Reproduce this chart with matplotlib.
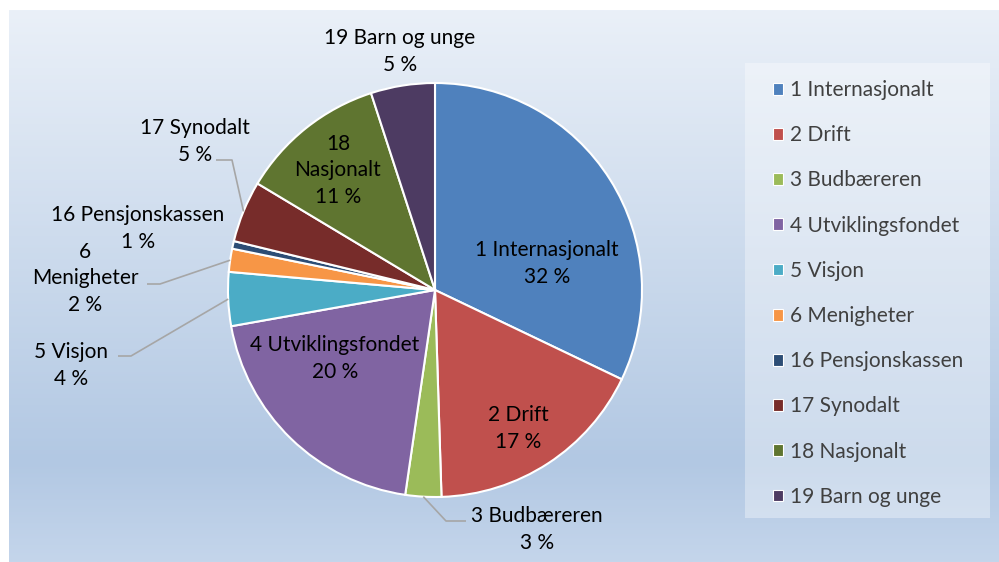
import numpy as np
import matplotlib
matplotlib.use("Agg")
import matplotlib.pyplot as plt
from matplotlib.patches import Patch, Rectangle
from matplotlib.colors import LinearSegmentedColormap

categories = ["1 Internasjonalt", "2 Drift", "3 Budbæreren", "4 Utviklingsfondet",
              "5 Visjon", "6 Menigheter", "16 Pensjonskassen", "17 Synodalt",
              "18 Nasjonalt", "19 Barn og unge"]
values = [32.1, 17.4, 2.8, 19.9, 4.2, 1.8, 0.6, 4.8, 11.4, 5.0]
colors = ["#4F81BD", "#C0504D", "#9BBB59", "#8064A2", "#4BACC6",
          "#F79646", "#2C4D75", "#772C2A", "#5F7530", "#4D3B62"]
label_names = ["1 Internasjonalt", "2 Drift", "3 Budbæreren", "4 Utviklingsfondet",
               "5 Visjon", "6\nMenigheter", "16 Pensjonskassen", "17 Synodalt",
               "18\nNasjonalt", "19 Barn og unge"]

W, H = 999, 562
FONT = "Lato"
FS = 15

fig = plt.figure(figsize=(W / 100, H / 100), dpi=100)
fig.patch.set_facecolor("white")

# background gradient panel
bg = fig.add_axes([9 / W, 0, (W - 9) / W, (H - 10) / H])
bg.set_axis_off()
cmap = LinearSegmentedColormap.from_list(
    "bg", [(0.0, "#EAF0F8"), (0.82, "#B2C8E3"), (1.0, "#C4D5EB")])
grad = np.linspace(0, 1, 256).reshape(-1, 1)
bg.imshow(grad, aspect="auto", cmap=cmap, extent=[0, 1, 1, 0])
bg.set_xlim(0, 1); bg.set_ylim(1, 0)

ax = fig.add_axes([0, 0, 1, 1])
ax.set_xlim(0, W)
ax.set_ylim(0, H)
ax.set_axis_off()
ax.patch.set_alpha(0)

def py(y):
    return H - y

cx, cy, R = 435, 290, 207
wedges, _ = ax.pie(values, colors=colors, startangle=90, counterclock=False,
                   center=(cx, py(cy)), radius=R, frame=False,
                   wedgeprops=dict(edgecolor="white", linewidth=1.5))
ax.set_xlim(0, W)
ax.set_ylim(0, H)
ax.set_aspect("equal")

pct = [f"{int(round(v))} %" for v in values]
labels = [f"{n}\n{p}" for n, p in zip(label_names, pct)]

def edge_point(i):
    w = wedges[i]
    a = np.deg2rad((w.theta1 + w.theta2) / 2)
    return cx + R * np.cos(a), py(cy) + R * np.sin(a)

# label positions (pixel coords of text-block centre)
label_pos = {0: (547, 262), 1: (518, 427), 2: (537, 528), 3: (335, 357),
             4: (71, 364), 5: (85, 277), 6: (138, 227), 7: (195, 140),
             8: (338, 169), 9: (400, 50)}
LSP = 26.8
for i, (x, y) in label_pos.items():
    lines = labels[i].split("\n")
    n = len(lines)
    for k, line in enumerate(lines):
        yb = y + (k - (n - 1) / 2) * LSP + 7.5
        ax.text(x, py(yb), line, ha="center", va="baseline", fontsize=FS,
                family=FONT, color="black")

# leader lines: (label-side start, elbow)
leaders = {7: [(216, 160), (232, 160)],
           5: [(147, 284), (160, 284)],
           4: [(118, 356), (131, 356)],
           2: [(466, 521), (446, 521)]}
for i, pts in leaders.items():
    ex, ey = edge_point(i)
    xs = [p[0] for p in pts] + [ex]
    ys = [py(p[1]) for p in pts] + [ey]
    ax.plot(xs, ys, color="#A6A6A6", lw=1.2, solid_capstyle="butt")

# legend background
ax.add_patch(Rectangle((745, py(518)), 245, 455, facecolor="white", alpha=0.35,
                       edgecolor="none"))
handles = [Patch(facecolor=c, edgecolor="white", linewidth=0.8) for c in colors]
leg = fig.legend(handles, categories, loc="upper left",
                 bbox_to_anchor=(773 / W, 1 - 80 / H), frameon=False,
                 prop=dict(family=FONT, size=FS), labelcolor="#404040",
                 handlelength=0.5, handleheight=0.5, handletextpad=0.3,
                 labelspacing=1.21, borderpad=0, borderaxespad=0)

fig.savefig("out.png", dpi=100)
